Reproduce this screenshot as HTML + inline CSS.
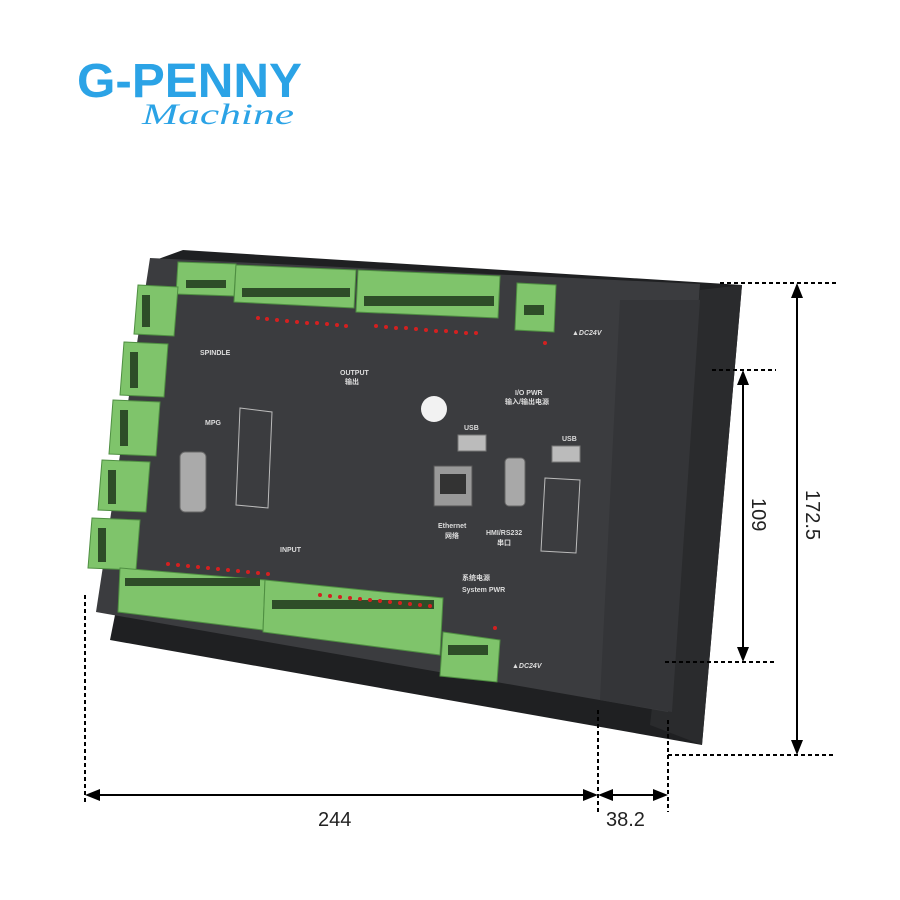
<!DOCTYPE html>
<html><head><meta charset="utf-8"><style>
html,body{margin:0;padding:0;background:#fff;width:900px;height:900px;overflow:hidden}
svg{display:block}
</style></head><body>
<svg width="900" height="900" viewBox="0 0 900 900" xmlns="http://www.w3.org/2000/svg" font-family="Liberation Sans, Noto Sans CJK SC, sans-serif">
<rect width="900" height="900" fill="#fff"/>
<text x="77" y="97" font-size="48" font-weight="bold" fill="#2ba3e6" textLength="225" lengthAdjust="spacingAndGlyphs">G-PENNY</text>
<text x="142" y="124" font-size="30" font-style="italic" font-family="Liberation Serif, serif" fill="#2ba3e6" textLength="152" lengthAdjust="spacingAndGlyphs">Machine</text>

<!-- back plate -->
<polygon points="183,250 742,285 702,745 110,640 118,600 150,262" fill="#1f2022"/>
<polygon points="700,290 742,285 702,745 650,725" fill="#2a2b2d"/>
<!-- front face -->
<polygon points="150,258 700,284 668,712 96,612" fill="#3b3c3f"/>
<polygon points="620,300 700,300 672,712 600,700" fill="#343538"/>

<g fill="#7fc46b" stroke="#4f8f42" stroke-width="1">
<!-- top row -->
<polygon points="178,262 236,264 234,296 176,294"/>
<polygon points="236,265 356,270 354,308 234,302"/>
<polygon points="358,270 500,276 498,318 356,312"/>
<polygon points="517,283 556,285 554,332 515,330"/>
<!-- left column -->
<polygon points="138,285 178,287 174,336 134,334"/>
<polygon points="124,342 168,344 164,397 120,395"/>
<polygon points="113,400 160,402 156,456 109,454"/>
<polygon points="102,460 150,462 146,512 98,510"/>
<polygon points="92,518 140,520 136,570 88,568"/>
<!-- bottom row -->
<polygon points="120,568 265,580 263,630 118,612"/>
<polygon points="265,580 443,598 440,655 263,632"/>
<polygon points="443,632 500,640 497,682 440,676"/>
</g>
<g fill="#2e4d28">
<rect x="186" y="280" width="40" height="8"/>
<rect x="242" y="288" width="108" height="9"/>
<rect x="364" y="296" width="130" height="10"/>
<rect x="524" y="305" width="20" height="10"/>
<rect x="142" y="295" width="8" height="32"/>
<rect x="130" y="352" width="8" height="36"/>
<rect x="120" y="410" width="8" height="36"/>
<rect x="108" y="470" width="8" height="34"/>
<rect x="98" y="528" width="8" height="34"/>
<rect x="125" y="578" width="135" height="8"/>
<rect x="272" y="600" width="162" height="9"/>
<rect x="448" y="645" width="40" height="10"/>
</g>
<!-- LEDs -->
<g fill="#d42020">
<circle cx="258" cy="318" r="2"/><circle cx="267" cy="319" r="2"/><circle cx="277" cy="320" r="2"/><circle cx="287" cy="321" r="2"/><circle cx="297" cy="322" r="2"/><circle cx="307" cy="323" r="2"/><circle cx="317" cy="323" r="2"/><circle cx="327" cy="324" r="2"/><circle cx="337" cy="325" r="2"/><circle cx="346" cy="326" r="2"/>
<circle cx="376" cy="326" r="2"/><circle cx="386" cy="327" r="2"/><circle cx="396" cy="328" r="2"/><circle cx="406" cy="328" r="2"/><circle cx="416" cy="329" r="2"/><circle cx="426" cy="330" r="2"/><circle cx="436" cy="331" r="2"/><circle cx="446" cy="331" r="2"/><circle cx="456" cy="332" r="2"/><circle cx="466" cy="333" r="2"/><circle cx="476" cy="333" r="2"/>
<circle cx="168" cy="564" r="2"/><circle cx="178" cy="565" r="2"/><circle cx="188" cy="566" r="2"/><circle cx="198" cy="567" r="2"/><circle cx="208" cy="568" r="2"/><circle cx="218" cy="569" r="2"/><circle cx="228" cy="570" r="2"/><circle cx="238" cy="571" r="2"/><circle cx="248" cy="572" r="2"/><circle cx="258" cy="573" r="2"/><circle cx="268" cy="574" r="2"/>
<circle cx="320" cy="595" r="2"/><circle cx="330" cy="596" r="2"/><circle cx="340" cy="597" r="2"/><circle cx="350" cy="598" r="2"/><circle cx="360" cy="599" r="2"/><circle cx="370" cy="600" r="2"/><circle cx="380" cy="601" r="2"/><circle cx="390" cy="602" r="2"/><circle cx="400" cy="603" r="2"/><circle cx="410" cy="604" r="2"/><circle cx="420" cy="605" r="2"/><circle cx="430" cy="606" r="2"/>
<circle cx="545" cy="343" r="2"/><circle cx="495" cy="628" r="2"/>
</g>
<!-- labels -->
<g fill="#ddd" font-size="7" font-weight="bold">
<text x="200" y="355">SPINDLE</text>
<text x="340" y="375">OUTPUT</text>
<text x="345" y="384">输出</text>
<text x="515" y="395">I/O PWR</text>
<text x="505" y="404">输入/输出电源</text>
<text x="572" y="335" font-style="italic">▲DC24V</text>
<text x="512" y="668" font-style="italic">▲DC24V</text>
<text x="462" y="580">系统电源</text>
<text x="462" y="592">System PWR</text>
<text x="280" y="552">INPUT</text>
<text x="205" y="425">MPG</text>
<text x="438" y="528">Ethernet</text>
<text x="445" y="538">网络</text>
<text x="486" y="535">HMI/RS232</text>
<text x="497" y="545">串口</text>
<text x="464" y="430">USB</text>
<text x="562" y="441">USB</text>
</g>
<!-- logo circle -->
<circle cx="434" cy="409" r="13" fill="#f2f2f2"/>
<!-- ports -->
<rect x="458" y="435" width="28" height="16" fill="#bbb" stroke="#777"/>
<rect x="552" y="446" width="28" height="16" fill="#bbb" stroke="#777"/>
<rect x="434" y="466" width="38" height="40" fill="#999" stroke="#555"/>
<rect x="440" y="474" width="26" height="20" fill="#333"/>
<rect x="505" y="458" width="20" height="48" rx="4" fill="#a8a8a8" stroke="#666"/>
<rect x="180" y="452" width="26" height="60" rx="5" fill="#aaa" stroke="#666"/>
<polygon points="240,408 272,412 268,508 236,505" fill="none" stroke="#bbb" stroke-width="1"/>
<polygon points="545,478 580,480 576,553 541,551" fill="none" stroke="#bbb" stroke-width="1"/>

<!-- dimensions -->
<g stroke="#000" stroke-width="2" fill="none" stroke-dasharray="4,3">
<line x1="720" y1="283" x2="836" y2="283"/>
<line x1="712" y1="370" x2="776" y2="370"/>
<line x1="665" y1="662" x2="776" y2="662"/>
<line x1="668" y1="755" x2="836" y2="755"/>
<line x1="85" y1="595" x2="85" y2="805"/>
<line x1="598" y1="710" x2="598" y2="812"/>
<line x1="668" y1="720" x2="668" y2="812"/>
</g>
<g stroke="#000" stroke-width="2">
<line x1="797" y1="295" x2="797" y2="743"/>
<line x1="743" y1="382" x2="743" y2="650"/>
<line x1="97" y1="795" x2="586" y2="795"/>
<line x1="610" y1="795" x2="656" y2="795"/>
</g>
<g fill="#000">
<polygon points="797,283 791,298 803,298"/><polygon points="797,755 791,740 803,740"/>
<polygon points="743,370 737,385 749,385"/><polygon points="743,662 737,647 749,647"/>
<polygon points="85,795 100,789 100,801"/><polygon points="598,795 583,789 583,801"/>
<polygon points="598,795 613,789 613,801"/><polygon points="668,795 653,789 653,801"/>
</g>
<g font-size="20" fill="#222">
<text x="318" y="826">244</text>
<text x="606" y="826">38.2</text>
<text transform="translate(752,498) rotate(90)">109</text>
<text transform="translate(806,490) rotate(90)">172.5</text>
</g>
</svg>
</body></html>
